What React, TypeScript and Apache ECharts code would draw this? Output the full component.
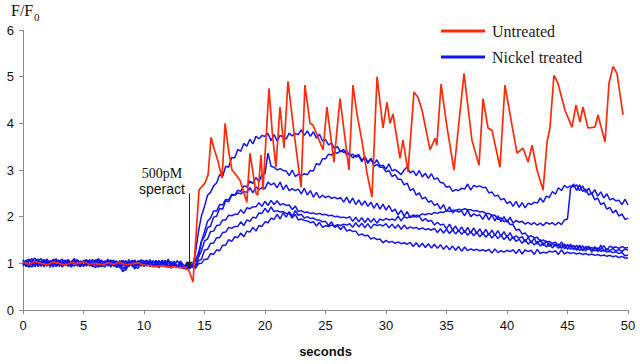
import React, { useEffect, useRef } from "react";
import * as echarts from "echarts";

// time step of the nickel-treated traces (seconds)
const STEP = 0.25;

const xTicks = [0, 5, 10, 15, 20, 25, 30, 35, 40, 45, 50];
const yTicks = [0, 1, 2, 3, 4, 5, 6];

// Untreated trace: [seconds, F/F0]
const untreated: [number, number][] = [
  [0, 1.02], [0.5, 0.98], [1, 1.04], [1.5, 1.0], [2, 0.97], [2.5, 1.03], [3, 1.0], [3.5, 0.96],
  [4, 1.02], [4.5, 0.99], [5, 1.03], [5.5, 0.98], [6, 1.0], [6.5, 0.97], [7, 1.01], [7.5, 0.98],
  [8, 1.02], [8.5, 0.97], [9, 0.99], [9.5, 1.01], [10, 0.96], [10.5, 0.95], [11, 0.93], [11.5, 0.95],
  [12, 0.92], [12.5, 0.93], [13, 0.9], [13.4, 0.92], [13.7, 0.85], [14.05, 0.6], [14.25, 1.4],
  [14.55, 2.57], [14.8, 2.65], [15.04, 2.72], [15.3, 2.9], [15.54, 3.7], [15.8, 3.45], [16.1, 3.2],
  [16.45, 2.83], [16.7, 4.0], [17.0, 3.4], [17.27, 3.0], [17.6, 2.9], [17.93, 2.78], [18.5, 2.31],
  [18.76, 3.36], [19.26, 2.5], [19.4, 2.46], [19.67, 3.32], [19.83, 2.57], [20.33, 4.75], [20.6, 3.8],
  [20.9, 3.06], [21.24, 4.35], [21.57, 3.47], [21.9, 4.9], [22.4, 3.8], [22.98, 2.63], [23.3, 4.82],
  [23.72, 4.0], [23.97, 3.96], [24.38, 3.7], [24.8, 3.43], [25.12, 4.35], [25.7, 3.17], [26.2, 4.53],
  [26.94, 3.0], [27.27, 4.82], [27.6, 4.2], [28.0, 3.64], [28.43, 2.93], [28.84, 2.42], [29.26, 5.0],
  [29.75, 3.9], [30.08, 4.45], [30.33, 4.0], [30.58, 4.2], [31.16, 3.25], [31.4, 3.64], [31.82, 2.96],
  [32.31, 4.67], [32.64, 4.56], [32.98, 4.28], [33.64, 3.43], [34.05, 3.68], [34.2, 3.53], [34.55, 4.84],
  [35.04, 3.92], [35.62, 3.0], [36.45, 5.07], [37.1, 3.64], [37.69, 3.1], [38.02, 4.53], [38.43, 3.9],
  [38.76, 3.85], [39.42, 3.06], [39.83, 4.82], [40.41, 3.96], [40.83, 3.36], [41.32, 3.47], [41.74, 3.17],
  [42.07, 3.53], [42.48, 3.0], [42.98, 2.57], [43.31, 3.6], [43.55, 3.9], [43.88, 5.03], [44.21, 4.86],
  [44.79, 4.28], [45.37, 3.92], [45.7, 4.39], [46.03, 4.03], [46.28, 4.35], [46.69, 3.9], [47.27, 3.92],
  [47.52, 4.18], [48.1, 3.6], [48.43, 4.86], [48.76, 5.22], [49.09, 5.07], [49.59, 4.18],
];

// Nickel treated traces, one value every 0.25 s from 0 to 50 s (one row = 5 s)
const nickel1 = [
  1.04,0.95,1.08,0.99, 0.93,1.06,1.10,0.97, 1.03,0.92,1.05,1.09, 0.96,1.02,1.07,0.94, 1.04,1.10,0.97,0.93,
  1.05,0.98,1.08,0.95, 0.91,1.03,1.07,0.97, 1.09,1.00,0.94,1.04, 0.92,1.06,0.99,0.95, 1.07,0.93,0.89,1.03,
  0.97,1.07,0.94,1.04, 1.01,0.92,1.06,0.97, 1.09,0.96,1.03,0.93, 1.05,0.97,0.91,0.98, 0.94,1.22,1.68,2.02,
  2.22,2.46,2.52,2.66, 2.72,2.90,2.86,3.08, 3.06,3.27,3.26,3.44, 3.40,3.57,3.51,3.66, 3.56,3.72,3.67,3.74,
  3.72,3.78,3.63,3.76, 3.62,3.74,3.70,3.66, 3.79,3.73,3.78,3.76, 3.86,3.74,3.84,3.72, 3.82,3.68,3.77,3.62,
  3.65,3.54,3.58,3.46, 3.50,3.39,3.44,3.32, 3.35,3.26,3.31,3.33, 3.20,3.29,3.16,3.25, 3.13,3.22,3.09,3.10,
  3.02,3.13,2.98,3.01, 2.96,2.90,3.00,3.07, 2.94,2.98,2.88,2.99, 2.85,2.93,2.82,2.92, 2.80,2.83,2.73,2.72,
  2.63,2.65,2.54,2.58, 2.56,2.61,2.59,2.70, 2.57,2.67,2.64,2.66, 2.62,2.63,2.51,2.53, 2.44,2.46,2.36,2.39,
  2.28,2.33,2.22,2.33, 2.20,2.30,2.19,2.29, 2.26,2.31,2.29,2.40, 2.31,2.44,2.41,2.54, 2.48,2.62,2.56,2.67,
  2.62,2.66,2.64,2.68, 2.56,2.66,2.52,2.61, 2.48,2.58,2.44,2.53, 2.40,2.49,2.36,2.39, 2.34,2.35,2.26,2.37,
  2.25,
];
const nickel2 = [
  1.08,0.98,0.94,1.06, 1.11,0.96,1.05,0.92, 1.07,0.97,1.09,0.95, 1.06,0.93,1.04,1.08, 0.96,1.06,0.94,1.05,
  0.95,1.07,0.98,0.93, 1.06,1.10,0.96,1.05, 0.94,1.04,1.07,0.92, 1.03,1.06,0.94,1.08, 0.96,0.88,1.03,1.07,
  1.05,0.95,1.08,0.97, 0.94,1.06,0.96,1.07, 0.93,1.04,0.95,1.06, 0.96,0.92,0.89,0.99, 0.91,1.07,1.22,1.48,
  1.57,1.76,1.80,1.99, 2.01,2.18,2.16,2.34, 2.32,2.46,2.46,2.57, 2.54,2.66,2.64,2.76, 2.71,2.84,2.75,2.90,
  2.92,3.36,3.08,3.06, 3.00,3.03,2.99,2.98, 2.88,3.00,2.86,2.91, 2.88,2.92,2.90,2.99, 2.98,3.14,3.11,3.24,
  3.24,3.34,3.32,3.38, 3.36,3.42,3.38,3.41, 3.31,3.34,3.28,3.30, 3.18,3.28,3.14,3.24, 3.08,3.12,3.06,3.06,
  2.96,2.99,2.86,2.90, 2.80,2.80,2.68,2.72, 2.56,2.60,2.46,2.51, 2.38,2.42,2.31,2.34, 2.24,2.28,2.16,2.26,
  2.11,2.21,2.08,2.14, 2.10,2.12,2.02,2.14, 2.00,2.06,2.02,2.04, 1.94,2.06,1.93,2.04, 1.91,2.02,1.89,2.00,
  1.88,1.99,1.86,1.92, 1.88,1.90,1.84,1.88, 1.83,1.87,1.82,1.86, 1.81,1.88,1.84,1.87, 1.82,1.88,1.83,1.93,
  1.95,2.60,2.70,2.56, 2.68,2.54,2.59,2.46, 2.51,2.36,2.40,2.26, 2.30,2.16,2.20,2.08, 2.14,2.01,2.06,1.94,
  1.97,
];
const nickel3 = [
  0.96,1.07,0.97,0.92, 1.05,1.09,0.95,1.04, 0.94,1.06,0.97,1.10, 0.93,1.05,0.96,1.07, 0.98,0.94,1.08,0.96,
  1.05,0.94,1.03,1.08, 0.95,0.92,1.06,0.97, 1.07,0.94,1.02,1.05, 0.90,0.97,1.06,0.93, 1.03,1.07,0.94,1.02,
  0.93,1.04,0.95,1.06, 0.96,0.91,1.03,0.99, 0.94,0.90,1.01,0.92, 0.95,0.93,0.87,0.98, 0.95,1.05,1.13,1.47,
  1.68,1.90,1.97,2.12, 2.12,2.26,2.25,2.37, 2.36,2.48,2.46,2.51, 2.49,2.54,2.52,2.62, 2.51,2.64,2.58,2.62,
  2.60,2.74,2.68,2.72, 2.62,2.74,2.58,2.68, 2.56,2.60,2.56,2.59, 2.49,2.61,2.46,2.56, 2.42,2.52,2.40,2.46,
  2.41,2.44,2.39,2.42, 2.38,2.41,2.31,2.42, 2.29,2.40,2.26,2.36, 2.24,2.34,2.22,2.31, 2.18,2.29,2.16,2.27,
  2.14,2.24,2.11,2.16, 2.04,2.14,2.01,2.11, 1.98,2.04,1.99,2.01, 1.91,1.96,1.90,1.92, 1.82,1.88,1.82,1.84,
  1.74,1.84,1.71,1.80, 1.68,1.78,1.66,1.77, 1.65,1.76,1.64,1.74, 1.62,1.73,1.61,1.71, 1.60,1.70,1.58,1.68,
  1.56,1.66,1.53,1.59, 1.54,1.57,1.46,1.56, 1.44,1.54,1.41,1.51, 1.38,1.48,1.36,1.42, 1.37,1.41,1.32,1.42,
  1.30,1.41,1.29,1.39, 1.27,1.38,1.26,1.37, 1.24,1.36,1.25,1.39, 1.26,1.31,1.27,1.32, 1.26,1.30,1.25,1.31,
  1.28,
];
const nickel4 = [
  1.03,0.93,1.06,1.10, 0.96,1.05,0.94,1.07, 0.97,1.01,1.08,0.93, 1.04,1.09,0.95,1.03, 0.92,1.05,1.07,0.95,
  1.04,1.08,0.94,1.03, 1.06,0.96,0.93,1.05, 0.95,1.07,0.97,0.91, 1.00,1.04,0.85,0.99, 1.05,0.96,1.06,0.94,
  1.03,1.06,0.93,1.02, 1.05,0.95,1.07,0.92, 1.03,0.94,1.05,0.91, 1.01,0.90,1.00,0.88, 0.98,0.96,1.13,1.27,
  1.48,1.52,1.68,1.69, 1.81,1.82,1.93,1.93, 2.03,2.02,2.05,2.05, 2.15,2.07,2.19,2.17, 2.21,2.21,2.30,2.22,
  2.33,2.24,2.35,2.26, 2.34,2.25,2.28,2.24, 2.25,2.15,2.23,2.11, 2.13,2.09,2.10,2.07, 2.08,2.05,2.07,2.04,
  2.05,2.02,2.03,2.00, 2.01,1.98,1.99,1.97, 2.00,1.90,1.99,1.89, 1.98,1.87,1.97,1.88, 1.96,1.86,1.95,1.92,
  1.96,1.93,1.95,1.92, 2.01,1.91,2.00,1.97, 2.01,1.99,2.03,2.02, 2.06,2.04,2.07,2.05, 2.09,2.07,2.10,2.09,
  2.13,2.11,2.14,2.13, 2.16,2.14,2.17,2.15, 2.15,2.12,2.13,2.10, 2.11,2.07,2.07,2.03, 2.03,1.94,1.98,1.89,
  1.93,1.83,1.83,1.71, 1.73,1.63,1.65,1.57, 1.59,1.55,1.56,1.47, 1.50,1.46,1.47,1.43, 1.45,1.37,1.46,1.35,
  1.40,1.36,1.38,1.30, 1.39,1.28,1.33,1.30, 1.31,1.27,1.29,1.26, 1.28,1.24,1.26,1.23, 1.25,1.21,1.23,1.16,
  1.18,
];
const nickel5 = [
  0.94,1.05,1.09,0.96, 1.06,0.93,1.03,1.08, 0.95,1.05,0.92,1.04, 1.07,0.96,1.06,0.93, 1.03,1.08,0.95,1.05,
  0.93,1.03,1.06,0.95, 1.08,0.98,0.94,1.02, 1.05,0.92,1.04,0.94, 1.06,0.87,0.97,1.02, 0.94,1.05,0.95,1.04,
  0.95,0.98,1.04,0.94, 1.06,0.97,0.99,0.96, 1.04,0.93,0.96,0.94, 0.98,0.88,0.97,0.89, 0.93,0.92,1.05,1.09,
  1.28,1.30,1.43,1.43, 1.55,1.55,1.66,1.67, 1.77,1.75,1.79,1.79, 1.89,1.81,1.93,1.90, 1.99,1.97,2.08,2.07,
  2.18,2.09,2.21,2.11, 2.13,2.10,2.11,2.07, 2.07,1.97,2.05,1.93, 1.95,1.92,1.91,1.87, 1.89,1.80,1.88,1.77,
  1.81,1.79,1.82,1.80, 1.83,1.81,1.84,1.82, 1.85,1.77,1.87,1.78, 1.86,1.76,1.85,1.75, 1.84,1.81,1.83,1.80,
  1.85,1.76,1.84,1.75, 1.83,1.73,1.82,1.74, 1.78,1.75,1.77,1.73, 1.76,1.72,1.74,1.71, 1.75,1.66,1.74,1.65,
  1.73,1.64,1.72,1.63, 1.71,1.62,1.70,1.60, 1.68,1.59,1.67,1.57, 1.65,1.56,1.64,1.54, 1.62,1.53,1.61,1.51,
  1.58,1.49,1.57,1.47, 1.52,1.43,1.51,1.41, 1.48,1.39,1.47,1.37, 1.44,1.35,1.43,1.33, 1.41,1.32,1.40,1.31,
  1.39,1.30,1.38,1.28, 1.37,1.27,1.36,1.33, 1.34,1.31,1.33,1.30, 1.38,1.28,1.37,1.34, 1.35,1.32,1.36,1.33,
  1.34,
];
const nickel6 = [
  1.06,0.96,0.92,1.05, 0.97,1.07,0.94,1.04, 1.09,0.96,1.05,0.94, 1.03,0.92,1.06,0.98, 0.94,1.07,0.97,0.93,
  1.07,0.95,1.05,0.93, 1.03,1.06,0.96,0.92, 1.04,1.07,0.94,1.03, 0.93,0.82,0.89,1.00, 1.04,0.93,1.03,0.95,
  1.05,0.94,1.03,0.92, 1.01,1.05,0.94,1.03, 0.92,1.01,0.98,0.93, 1.02,0.91,0.98,0.90, 0.93,0.89,0.99,1.00,
  1.09,1.09,1.21,1.19, 1.29,1.27,1.39,1.39, 1.51,1.47,1.57,1.55, 1.65,1.57,1.69,1.67, 1.77,1.69,1.81,1.79,
  1.89,1.87,1.97,1.94, 2.05,1.95,2.08,1.99, 2.11,2.01,2.13,2.03, 2.05,1.97,2.00,1.96, 1.97,1.93,1.93,1.89,
  1.90,1.81,1.89,1.77, 1.81,1.72,1.80,1.69, 1.72,1.68,1.69,1.60, 1.63,1.59,1.60,1.52, 1.55,1.51,1.52,1.44,
  1.49,1.45,1.47,1.43, 1.46,1.42,1.44,1.41, 1.45,1.36,1.44,1.35, 1.43,1.34,1.42,1.33, 1.41,1.32,1.40,1.30,
  1.38,1.29,1.37,1.28, 1.36,1.26,1.35,1.27, 1.31,1.28,1.30,1.27, 1.29,1.26,1.30,1.22, 1.31,1.23,1.27,1.24,
  1.28,1.25,1.29,1.21, 1.30,1.20,1.29,1.25, 1.28,1.19,1.30,1.21, 1.24,1.22,1.26,1.24, 1.27,1.19,1.29,1.20,
  1.24,1.21,1.23,1.20, 1.22,1.19,1.21,1.18, 1.20,1.17,1.19,1.16, 1.18,1.15,1.17,1.14, 1.16,1.12,1.15,1.11,
  1.12,
];

const nickelTraces = [nickel1, nickel2, nickel3, nickel4, nickel5, nickel6];

// stimulus annotation (seconds, F/F0 of arrow top and tip)
const stimulusTime = 13.72;
const arrowTop = 2.5;
const arrowTip = 0.96;

const RED = "#ff2a0a";
const BLUE = "#1414ee";
const AXIS = "#8a8a8a";

export default function App() {
  const ref = useRef<HTMLDivElement>(null);

  useEffect(() => {
    if (!ref.current) return;
    const chart = echarts.init(ref.current, null, { renderer: "svg" });

    const blueSeries = nickelTraces.map((vals) => ({
      name: "Nickel treated",
      type: "line",
      data: vals.map((v, i) => [i * STEP, v]),
      showSymbol: false,
      symbol: "none",
      lineStyle: { color: BLUE, width: 1.5 },
      itemStyle: { color: BLUE },
      z: 2,
      silent: true,
    }));

    chart.setOption({
      animation: false,
      grid: { left: 23, right: 12, top: 30, bottom: 54 },
      legend: {
        data: ["Untreated", "Nickel treated"],
        orient: "vertical",
        left: 436,
        top: 18,
        icon: "rect",
        itemWidth: 44,
        itemHeight: 3,
        itemGap: 10,
        textStyle: { fontFamily: "Liberation Serif", fontSize: 16, color: "#222", padding: [0, 0, 0, 2] },
        selectedMode: false,
      },
      xAxis: {
        type: "value",
        min: 0,
        max: 50,
        interval: 5,
        name: "seconds",
        nameLocation: "middle",
        nameGap: 35,
        nameTextStyle: { fontFamily: "Liberation Sans", fontSize: 13, fontWeight: "bold", color: "#111" },
        axisLine: { lineStyle: { color: AXIS, width: 1 } },
        axisTick: { show: true, length: 4, lineStyle: { color: AXIS } },
        axisLabel: {
          fontFamily: "Liberation Sans",
          fontSize: 13,
          color: "#111",
          margin: 9,
          formatter: (v: number) => (xTicks.includes(v) ? String(v) : ""),
        },
        splitLine: { show: false },
      },
      yAxis: {
        type: "value",
        min: 0,
        max: 6,
        interval: 1,
        axisLine: { show: true, lineStyle: { color: AXIS, width: 1 } },
        axisTick: { show: true, length: 4, lineStyle: { color: AXIS } },
        axisLabel: {
          fontFamily: "Liberation Sans",
          fontSize: 13,
          color: "#111",
          margin: 9,
          formatter: (v: number) => (yTicks.includes(v) ? String(v) : ""),
        },
        splitLine: { show: false },
      },
      graphic: [
        {
          type: "text",
          left: 11,
          top: 2,
          style: { text: "F/F", fontFamily: "Liberation Serif", fontSize: 16, fill: "#111" },
        },
        {
          type: "text",
          left: 34,
          top: 11,
          style: { text: "0", fontFamily: "Liberation Serif", fontSize: 11, fill: "#111" },
        },
        {
          type: "text",
          x: 162,
          y: 173,
          style: {
            text: "500pM",
            fontFamily: "Liberation Serif",
            fontSize: 14,
            fill: "#111",
            textAlign: "center",
            textVerticalAlign: "middle",
          },
        },
        {
          type: "text",
          x: 162,
          y: 189,
          style: {
            text: "speract",
            fontFamily: "Liberation Sans",
            fontSize: 14,
            fill: "#111",
            textAlign: "center",
            textVerticalAlign: "middle",
          },
        },
      ],
      series: [
        ...blueSeries,
        {
          name: "Untreated",
          type: "line",
          data: untreated,
          showSymbol: false,
          symbol: "none",
          lineStyle: { color: RED, width: 1.7 },
          itemStyle: { color: RED },
          z: 3,
          silent: true,
          markLine: {
            silent: true,
            symbol: ["none", "triangle"],
            symbolSize: [7, 7],
            label: { show: false },
            lineStyle: { color: "#222", width: 1, type: "solid" },
            emphasis: { disabled: true },
            data: [[{ coord: [stimulusTime, arrowTop] }, { coord: [stimulusTime, arrowTip] }]],
          },
        },
      ],
    });

    return () => chart.dispose();
  }, []);

  return (
    <div
      ref={ref}
      style={{ position: "fixed", left: 0, top: 0, width: 640, height: 364, background: "#fff" }}
    />
  );
}
